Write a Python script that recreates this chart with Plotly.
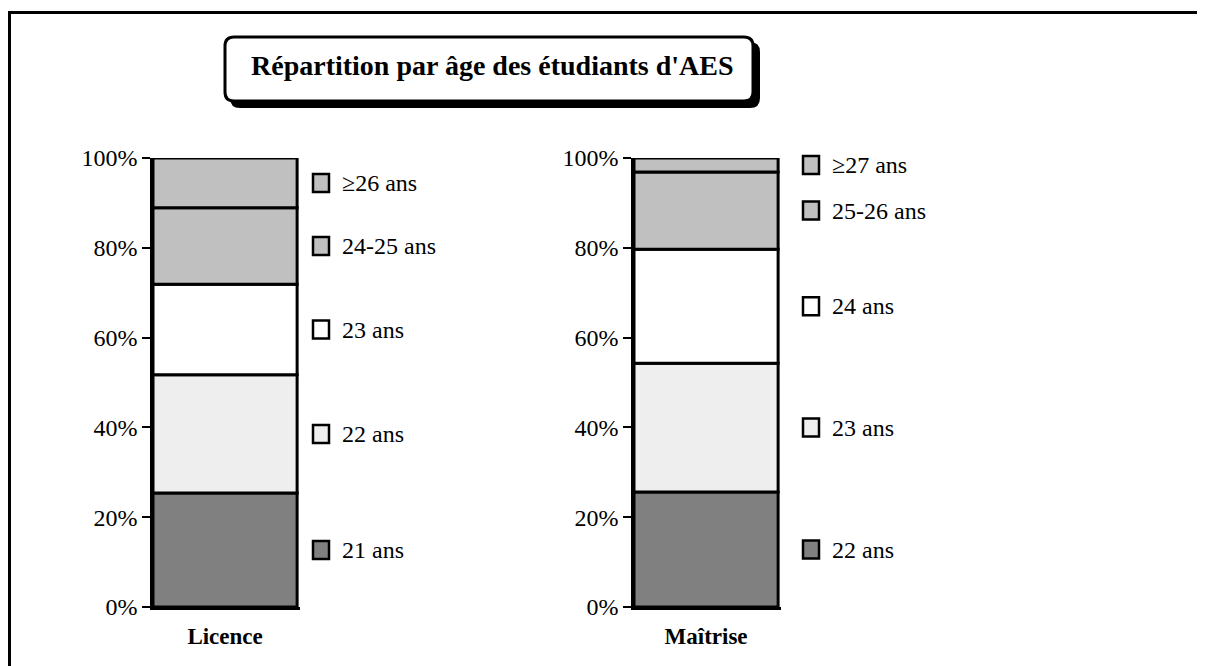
import plotly.graph_objects as go

# data (percent of students per age group)
groups = ["Licence", "Maîtrise"]
licence_labels = ["21 ans", "22 ans", "23 ans", "24-25 ans", "≥26 ans"]
licence_values = [25.4, 26.3, 20.2, 17.0, 11.1]
maitrise_labels = ["22 ans", "23 ans", "24 ans", "25-26 ans", "≥27 ans"]
maitrise_values = [25.6, 28.7, 25.4, 17.2, 3.1]
seg_colors = ["#808080", "#eeeeee", "#ffffff", "#c0c0c0", "#c0c0c0"]
y_ticks = [0, 20, 40, 60, 80, 100]

# the page puts the figure 8px in from the top-left corner
OFF = 8
W, H = 1205 - OFF, 666 - OFF
FONT = "Liberation Serif"
Y_BOT, Y_TOP = 607, 158  # pixel rows of 0% and 100%


def px(x):
    return (x - OFF) / W


def py(y):
    return 1 - (y - OFF) / H


def pct_to_paper(v):
    return py(Y_BOT) + v / 100 * (py(Y_TOP) - py(Y_BOT))


fig = go.Figure()
shapes = []
annotations = []

# (labels, values, x axis, y axis, legend square x)
panels = [
    (licence_labels, licence_values, "x", "y", 312),
    (maitrise_labels, maitrise_values, "x2", "y2", 802),
]

for (labels, values, xa, ya, lx) in panels:
    base = 0
    for lab, val, col in zip(labels, values, seg_colors):
        fig.add_trace(go.Bar(x=[0], y=[val], base=[base], width=1,
                             marker=dict(color=col, line=dict(color="black", width=3)),
                             xaxis=xa, yaxis=ya, showlegend=False, hoverinfo="skip"))
        mid = pct_to_paper(base + val / 2)
        # legend square + label next to each segment
        shapes.append(dict(type="rect", xref="paper", yref="paper",
                           x0=px(lx + 1), x1=px(lx + 17),
                           y0=mid - 9 / H, y1=mid + 9 / H,
                           fillcolor=col, line=dict(color="black", width=2.5)))
        annotations.append(dict(x=px(lx + 28), y=mid, xref="paper", yref="paper",
                                text=lab, showarrow=False, xanchor="left", yanchor="middle",
                                font=dict(family=FONT, size=24, color="black")))
        base += val

axis_y = dict(range=[0, 100], domain=[py(Y_BOT), py(Y_TOP)], tickvals=y_ticks,
              ticktext=[f"{v}%" for v in y_ticks], automargin=False,
              showline=True, linewidth=2.5, linecolor="black",
              ticks="outside", ticklen=8, tickwidth=2, tickcolor="black",
              showgrid=False, zeroline=False,
              tickfont=dict(family=FONT, size=24, color="black"))
axis_x = dict(range=[-0.5, 0.52], showline=True, linewidth=3, linecolor="black",
              ticks="", showgrid=False, zeroline=False, tickvals=[0], automargin=False,
              ticklabelstandoff=6,
              tickfont=dict(family=FONT, size=23, color="black"))

fig.update_layout(
    xaxis=dict(axis_x, domain=[px(153), px(300)], anchor="y",
               ticktext=["<b>" + groups[0] + "</b>"]),
    yaxis=dict(axis_y, anchor="x"),
    xaxis2=dict(axis_x, domain=[px(634), px(781)], anchor="y2",
                ticktext=["<b>" + groups[1] + "</b>"]),
    yaxis2=dict(axis_y, anchor="x2"),
)


# title box with drop shadow
def rounded(x0, y0, x1, y1, r):
    X0, X1, Y0, Y1 = px(x0), px(x1), py(y0), py(y1)
    rx, ry = r / W, r / H
    return (f"M {X0+rx},{Y0} L {X1-rx},{Y0} Q {X1},{Y0} {X1},{Y0-ry} "
            f"L {X1},{Y1+ry} Q {X1},{Y1} {X1-rx},{Y1} L {X0+rx},{Y1} "
            f"Q {X0},{Y1} {X0},{Y1+ry} L {X0},{Y0-ry} Q {X0},{Y0} {X0+rx},{Y0} Z")


shapes.append(dict(type="path", xref="paper", yref="paper", path=rounded(231, 43, 759, 107, 9),
                   fillcolor="black", line=dict(color="black", width=2), layer="below"))
shapes.append(dict(type="path", xref="paper", yref="paper", path=rounded(225, 37, 753, 101, 9),
                   fillcolor="white", line=dict(color="black", width=3), layer="below"))
annotations.append(dict(x=px(492), y=py(66), xref="paper", yref="paper",
                        text="<b>Répartition par âge des étudiants d'AES</b>",
                        xanchor="center", yanchor="middle",
                        showarrow=False, font=dict(family=FONT, size=28, color="black")))

# outer frame (top and left edges)
shapes.append(dict(type="path", xref="paper", yref="paper",
                   path=f"M {px(9.5)},0 L {px(9.5)},{py(12.5)} L 1,{py(12.5)}",
                   line=dict(color="black", width=3)))

fig.update_layout(
    width=W, height=H, autosize=False,
    margin=dict(l=0, r=0, t=0, b=0, pad=0),
    paper_bgcolor="white", plot_bgcolor="white",
    barmode="overlay", shapes=shapes, annotations=annotations,
    font=dict(family=FONT, color="black"),
)

fig.write_html("out.html")
